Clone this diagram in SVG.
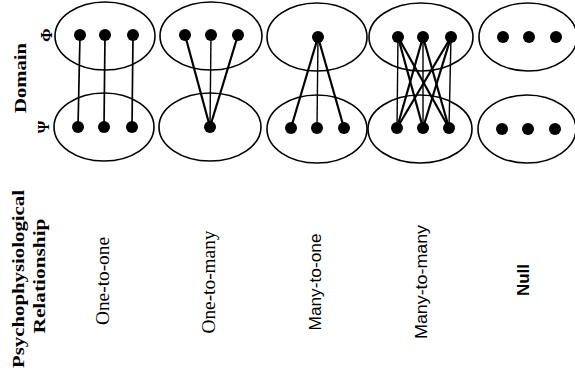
<svg xmlns="http://www.w3.org/2000/svg" width="575" height="385" viewBox="0 0 575 385">
<style>
.ell{fill:none;stroke:#000;stroke-width:1.6}
.dot{fill:#000}
.ln{stroke:#000;stroke-width:2.2;fill:none}
.mid{stroke:#000;stroke-width:1.7;fill:none}
.thin{stroke:#000;stroke-width:1.4;fill:none}
.hd{font-family:"Liberation Serif",serif;font-weight:bold;font-size:17px;fill:#000}
.lab{font-family:"Liberation Serif",serif;font-size:19px;fill:#000}
.labs{font-family:"Liberation Sans",sans-serif;font-size:17px;fill:#000}
.sym{font-family:"Liberation Serif",serif;font-weight:bold;font-size:16px;fill:#000}
</style>
<rect width="575" height="385" fill="#fff"/>
<g id="headers">
<text class="hd" transform="translate(20,78) rotate(-90)" text-anchor="middle" dominant-baseline="central" textLength="70" lengthAdjust="spacingAndGlyphs">Domain</text>
<text class="sym" transform="translate(46,35) rotate(-90)" text-anchor="middle" dominant-baseline="central">Φ</text>
<text class="sym" transform="translate(43,127) rotate(-90)" text-anchor="middle" dominant-baseline="central">Ψ</text>
<text class="hd" transform="translate(18,279) rotate(-90)" text-anchor="middle" dominant-baseline="central" textLength="178" lengthAdjust="spacingAndGlyphs">Psychophysiological</text>
<text class="hd" transform="translate(39,276) rotate(-90)" text-anchor="middle" dominant-baseline="central" textLength="115" lengthAdjust="spacingAndGlyphs">Relationship</text>
</g>
<g id="connectors">
<line class="mid" x1="80" y1="35" x2="78" y2="127"/>
<line class="mid" x1="105" y1="35" x2="104" y2="127"/>
<line class="mid" x1="133" y1="35" x2="132" y2="127"/>
<line class="ln" x1="185" y1="35" x2="210" y2="127"/>
<line class="thin" x1="211" y1="35" x2="210" y2="127"/>
<line class="ln" x1="238" y1="35" x2="210" y2="127"/>
<line class="ln" x1="318" y1="37" x2="291" y2="128"/>
<line class="thin" x1="318" y1="37" x2="317" y2="128"/>
<line class="ln" x1="318" y1="37" x2="344" y2="128"/>
<line class="thin" x1="398" y1="37" x2="397" y2="128"/>
<line class="ln" x1="398" y1="37" x2="423" y2="128"/>
<line class="ln" x1="398" y1="37" x2="449" y2="128"/>
<line class="ln" x1="423" y1="37" x2="397" y2="128"/>
<line class="thin" x1="423" y1="37" x2="423" y2="128"/>
<line class="ln" x1="423" y1="37" x2="449" y2="128"/>
<line class="ln" x1="451" y1="37" x2="397" y2="128"/>
<line class="ln" x1="451" y1="37" x2="423" y2="128"/>
<line class="thin" x1="451" y1="37" x2="449" y2="128"/>
</g>
<g id="one-to-one">
<ellipse class="ell" cx="105" cy="36" rx="50" ry="34"/>
<ellipse class="ell" cx="104" cy="127" rx="50" ry="34"/>
<circle class="dot" cx="80" cy="35" r="6"/><circle class="dot" cx="105" cy="35" r="6"/><circle class="dot" cx="133" cy="35" r="6"/>
<circle class="dot" cx="78" cy="127" r="6"/><circle class="dot" cx="104" cy="127" r="6"/><circle class="dot" cx="132" cy="127" r="6"/>
<text class="lab" transform="translate(102,281) rotate(-90)" text-anchor="middle" dominant-baseline="central" textLength="88" lengthAdjust="spacingAndGlyphs">One-to-one</text>
</g>
<g id="one-to-many">
<ellipse class="ell" cx="211" cy="36" rx="51" ry="34"/>
<ellipse class="ell" cx="210" cy="127" rx="51" ry="34"/>
<circle class="dot" cx="185" cy="35" r="6"/><circle class="dot" cx="211" cy="35" r="6"/><circle class="dot" cx="238" cy="35" r="6"/>
<circle class="dot" cx="210" cy="127" r="6"/>
<text class="lab" transform="translate(208,282) rotate(-90)" text-anchor="middle" dominant-baseline="central" textLength="103" lengthAdjust="spacingAndGlyphs">One-to-many</text>
</g>
<g id="many-to-one">
<ellipse class="ell" cx="317" cy="37" rx="50" ry="34"/>
<ellipse class="ell" cx="317" cy="129" rx="50" ry="34"/>
<circle class="dot" cx="318" cy="37" r="6"/>
<circle class="dot" cx="291" cy="128" r="6"/><circle class="dot" cx="317" cy="128" r="6"/><circle class="dot" cx="344" cy="128" r="6"/>
<text class="labs" transform="translate(315,282) rotate(-90)" text-anchor="middle" dominant-baseline="central" textLength="97" lengthAdjust="spacingAndGlyphs">Many-to-one</text>
</g>
<g id="many-to-many">
<ellipse class="ell" cx="421" cy="37" rx="52" ry="34"/>
<ellipse class="ell" cx="420" cy="129" rx="52" ry="34"/>
<circle class="dot" cx="398" cy="37" r="6"/><circle class="dot" cx="423" cy="37" r="6"/><circle class="dot" cx="451" cy="37" r="6"/>
<circle class="dot" cx="397" cy="128" r="6"/><circle class="dot" cx="423" cy="128" r="6"/><circle class="dot" cx="449" cy="128" r="6"/>
<text class="labs" transform="translate(421,282) rotate(-90)" text-anchor="middle" dominant-baseline="central" textLength="114" lengthAdjust="spacingAndGlyphs">Many-to-many</text>
</g>
<g id="null">
<ellipse class="ell" cx="528" cy="37" rx="49" ry="34"/>
<ellipse class="ell" cx="527" cy="129" rx="49" ry="34"/>
<circle class="dot" cx="503" cy="37" r="6"/><circle class="dot" cx="529" cy="37" r="6"/><circle class="dot" cx="556" cy="37" r="6"/>
<circle class="dot" cx="502" cy="129" r="6"/><circle class="dot" cx="528" cy="129" r="6"/><circle class="dot" cx="555" cy="129" r="6"/>
<text class="labs" transform="translate(523,280) rotate(-90)" text-anchor="middle" dominant-baseline="central" font-weight="bold" textLength="32" lengthAdjust="spacingAndGlyphs">Null</text>
</g>
</svg>
